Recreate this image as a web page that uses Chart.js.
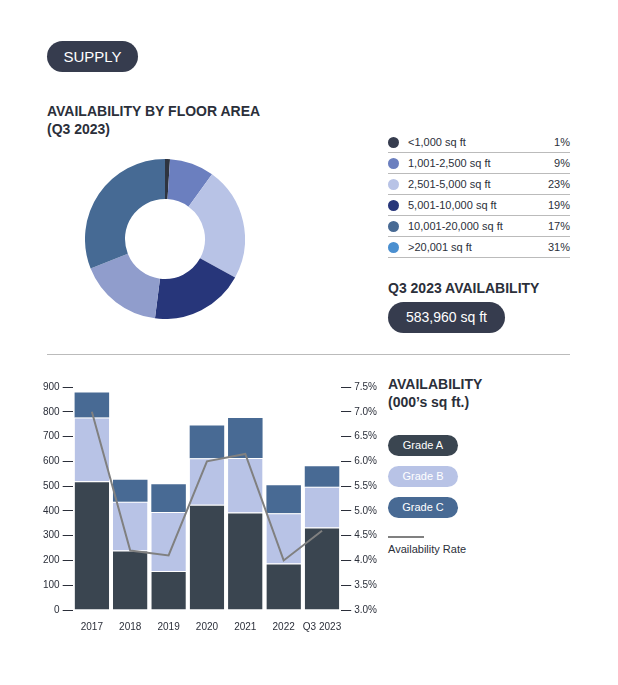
<!DOCTYPE html>
<html><head><meta charset="utf-8">
<script src="https://cdn.jsdelivr.net/npm/chart.js@4"></script>
<style>
body{margin:0;width:618px;height:685px;background:#fff;font-family:"Liberation Sans",Arial,sans-serif;color:#2b2f3a;position:relative;overflow:hidden}
.abs{position:absolute}
.pill{border-radius:16px;color:#fff;background:#363c4e}
h2{margin:0;font-size:14px;font-weight:bold;line-height:18px}
table{border-collapse:collapse;font-size:11px}
td{height:20px;border-bottom:1px solid #bbb;padding:0}
.dot{display:inline-block;width:11px;height:11px;border-radius:50%;vertical-align:middle}
.lg{width:70px;height:21px;border-radius:11px;color:#fff;font-size:11px;line-height:21px;text-align:center}
</style></head><body>
<div class="abs pill" style="left:47px;top:41px;width:91px;height:31px;line-height:31px;text-align:center;font-size:15px">SUPPLY</div>
<h2 class="abs" style="left:47px;top:102px">AVAILABILITY BY FLOOR AREA<br>(Q3 2023)</h2>
<div class="abs" style="left:85px;top:159px;width:160px;height:160px"><canvas id="d"></canvas></div>
<table class="abs" id="tbl" style="left:388px;top:132px;width:182px"></table>
<h2 class="abs" style="left:388px;top:279px">Q3 2023 AVAILABILITY</h2>
<div class="abs pill" style="left:388px;top:302px;width:117px;height:31px;line-height:31px;text-align:center;font-size:14px">583,960 sq ft</div>
<div class="abs" style="left:47px;top:354px;width:523px;border-top:1px solid #bbb"></div>
<h2 class="abs" style="left:388px;top:375px">AVAILABILITY<br>(000’s sq ft.)</h2>
<div class="abs lg" style="left:388px;top:435px;background:#3a4550">Grade A</div>
<div class="abs lg" style="left:388px;top:466px;background:#b8c3e6">Grade B</div>
<div class="abs lg" style="left:388px;top:497px;background:#486a94">Grade C</div>
<div class="abs" style="left:388px;top:536px;width:36px;border-top:2px solid #808080"></div>
<div class="abs" style="left:388px;top:543px;font-size:11px">Availability Rate</div>
<div class="abs" style="left:40px;top:378px;width:340px;height:258px"><canvas id="b"></canvas></div>
<script>
const sizeLabels=["<1,000 sq ft","1,001-2,500 sq ft","2,501-5,000 sq ft","5,001-10,000 sq ft","10,001-20,000 sq ft",">20,001 sq ft"];
const sizeShares=[1,9,23,19,17,31];
const donutColors=["#2e3440","#6b7fbf","#b8c3e6","#27367a","#909dcc","#466a94"];
const legendColors=["#363c4e","#6b7fbf","#b8c3e6","#27367a","#486a94","#4a8fd0"];
const years=["2017","2018","2019","2020","2021","2022","Q3 2023"];
const gradeA=[520,240,157,425,393,188,333];
const gradeB=[257,197,239,187,220,202,164];
const gradeC=[101,89,112,133,162,113,83];
const rate=[7.0,4.2,4.1,6.0,6.15,4.0,4.6];
const leftTicks=[0,100,200,300,400,500,600,700,800,900];
const rightTicks=[3.0,3.5,4.0,4.5,5.0,5.5,6.0,6.5,7.0,7.5];

const tbl=document.getElementById('tbl');
sizeLabels.forEach((l,i)=>{const tr=document.createElement('tr');
tr.innerHTML=`<td style="width:20px"><span class="dot" style="background:${legendColors[i]}"></span></td><td>${l.replace('<','&lt;')}</td><td style="text-align:right">${sizeShares[i]}%</td>`;tbl.appendChild(tr);});

Chart.defaults.font.family='"Liberation Sans",Arial,sans-serif';
Chart.defaults.color='#2b2f3a';
new Chart(document.getElementById('d'),{type:'doughnut',data:{labels:sizeLabels,datasets:[{data:sizeShares,backgroundColor:donutColors,borderWidth:0}]},
options:{responsive:true,maintainAspectRatio:false,animation:false,cutout:'50%',plugins:{legend:{display:false},tooltip:{enabled:false}}}});

const tickGrid={drawOnChartArea:false,drawTicks:true,tickLength:10,color:'#2b2f3a'};
new Chart(document.getElementById('b'),{data:{labels:years,datasets:[
{type:'line',data:rate,yAxisID:'y2',borderColor:'#808080',borderWidth:2,pointRadius:0,tension:0,order:0},
{type:'bar',data:gradeA,backgroundColor:'#3a4550',yAxisID:'y',order:1,borderColor:'#fff',borderWidth:{top:1},borderSkipped:'bottom'},
{type:'bar',data:gradeB,backgroundColor:'#b8c3e6',yAxisID:'y',order:1,borderColor:'#fff',borderWidth:{top:1},borderSkipped:'bottom'},
{type:'bar',data:gradeC,backgroundColor:'#486a94',yAxisID:'y',order:1}]},
options:{responsive:true,maintainAspectRatio:false,animation:false,
datasets:{bar:{categoryPercentage:0.9,barPercentage:1}},
plugins:{legend:{display:false},tooltip:{enabled:false}},
layout:{padding:{top:5}},
scales:{x:{stacked:true,grid:{display:false},border:{display:false},ticks:{font:{size:10},maxRotation:0,autoSkip:false}},
y:{stacked:true,min:0,max:900,afterBuildTicks:a=>{a.ticks=leftTicks.map(v=>({value:v}))},grid:tickGrid,border:{display:false},ticks:{font:{size:10},padding:3}},
y2:{position:'right',min:3,max:7.5,afterBuildTicks:a=>{a.ticks=rightTicks.map(v=>({value:v}))},grid:tickGrid,border:{display:false},ticks:{font:{size:10},padding:3,callback:v=>v.toFixed(1)+'%'}}}}});
</script></body></html>
